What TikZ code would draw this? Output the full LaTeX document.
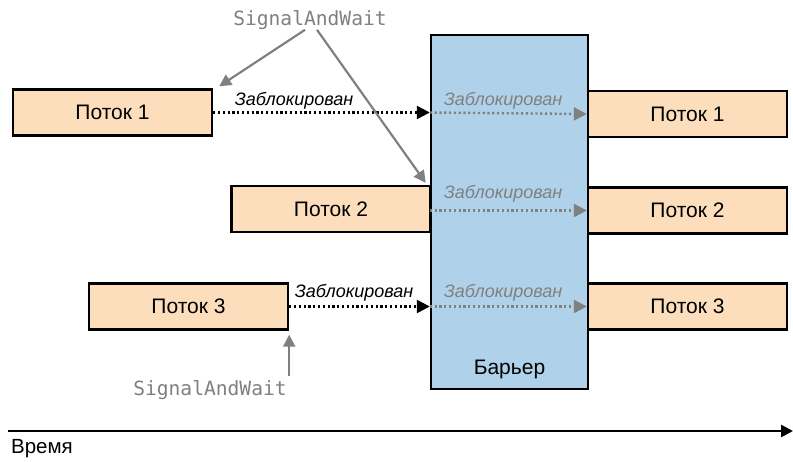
\documentclass[tikz,border=0pt]{standalone}
\usepackage{fontspec}
\setmainfont{Liberation Sans}
\setmonofont{DejaVu Sans Mono}
\usepackage{tikz}
\usetikzlibrary{positioning, arrows.meta, calc}
\definecolor{threadfill}{HTML}{FCDEBD}
\definecolor{barrierfill}{HTML}{AFD2EA}
\definecolor{hintgray}{HTML}{808080}

\tikzset{
  thread/.style={draw, line width=2.4pt, fill=threadfill, inner sep=0pt,
                 minimum width=199pt, minimum height=46pt,
                 font=\fontsize{21}{25}\selectfont},
  blocked/.style={inner sep=0pt, anchor=base,
                  font=\fontsize{18}{21}\selectfont\itshape},
  signal/.style={inner sep=0pt, text=hintgray,
                 font=\fontsize{19.6}{23}\selectfont\ttfamily},
  waitline/.style={line width=2.4pt, dash pattern=on 2.2pt off 2.6pt,
                   -{Triangle[length=13pt, width=13pt]}},
  hint/.style={draw=hintgray, line width=2.2pt,
               -{Triangle[length=12pt, width=12pt]}}
}

\begin{document}
\begin{tikzpicture}[x=1pt, y=-1pt]
  \useasboundingbox (0,0) rectangle (793,461);

  % barrier
  \node[draw, line width=2.4pt, fill=barrierfill, minimum width=157pt,
        minimum height=354pt, inner sep=0pt] (bar) at (509.5,212) {};
  \node[above=11pt of bar.south, inner sep=0pt,
        font=\fontsize{21}{25}\selectfont] (barlbl) {Барьер};

  % threads before and after the barrier
  \node[thread] (t1a) at (112.5,112.5) {Поток 1};
  \node[thread] (t2a) at (331,209)     {Поток 2};
  \node[thread] (t3a) at (188.5,306.5) {Поток 3};
  \node[thread] (t1b) at (687.5,114)   {Поток 1};
  \node[thread] (t2b) at (687.5,210.5) {Поток 2};
  \node[thread] (t3b) at (687.5,306.5) {Поток 3};

  % waiting
  \coordinate (w1) at (bar.west |- t1a.east);
  \coordinate (w2) at (bar.west |- t2b.west);
  \coordinate (w3) at (bar.west |- t3a.east);
  \draw[waitline] (t1a.east) -- (w1);
  \draw[waitline] (t3a.east) -- (w3);
  \draw[waitline, hintgray] (w1) -- (t1b.west);
  \draw[waitline, hintgray] (w2) -- (t2b.west);
  \draw[waitline, hintgray] (w3) -- (t3b.west);

  \node[blocked] (b1a) at (294,105) {Заблокирован};
  \node[blocked] (b3a) at (354,297) {Заблокирован};
  \node[blocked, text=hintgray] (b1b) at (503,105) {Заблокирован};
  \node[blocked, text=hintgray] (b2b) at (503,198) {Заблокирован};
  \node[blocked, text=hintgray] (b3b) at (503,297) {Заблокирован};

  % calls
  \node[signal] (sigtop) at (310,20) {SignalAndWait};
  \node[signal] (sigbot) at (210,390) {SignalAndWait};
  \coordinate (up) at ($(sigbot.north east -| t3a.south east)+(0,-4)$);
  \draw[hint] ($(sigtop.south)+(-5,0)$) -- ($(t1a.north east)+(6,-2)$);
  \draw[hint] ($(sigtop.south)+(7,0)$) -- ($(t2a.north east)+(-6,-2)$);
  \draw[hint] (up) -- ($(t3a.south east)+(0,4)$);

  % time axis
  \coordinate (tstart) at (8,431);
  \coordinate (tend) at (793,431);
  \draw[line width=2.6pt, -{Triangle[length=12pt, width=12pt]}] (tstart) -- (tend);
  \node[inner sep=0pt, font=\fontsize{20.5}{24}\selectfont] (time) at (42,449) {Время};
\end{tikzpicture}
\end{document}
